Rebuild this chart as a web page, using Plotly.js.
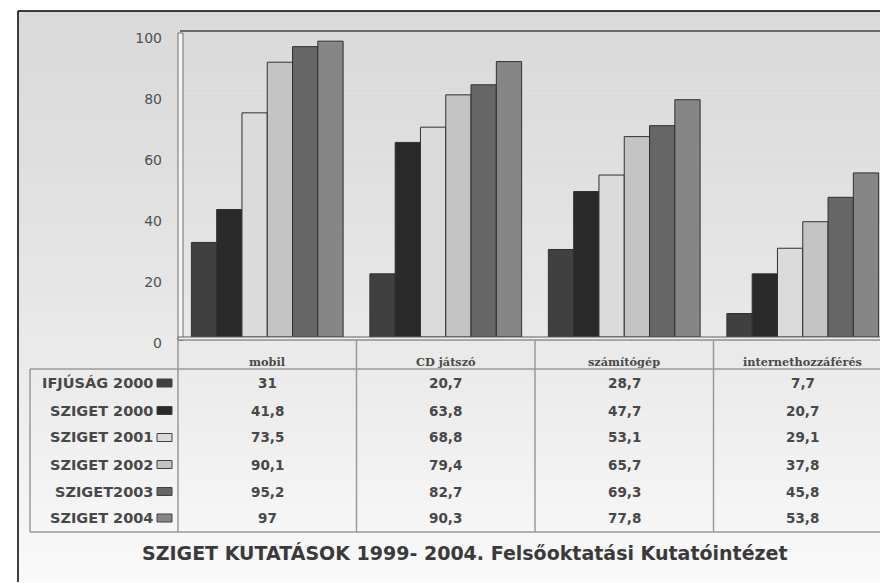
<!DOCTYPE html>
<html>
<head>
<meta charset="utf-8">
<script src="https://cdn.plot.ly/plotly-3.0.1.min.js"></script>
<style>
  html, body { margin: 0; padding: 0; background: #ffffff; }
  #chart { width: 880px; height: 583px; }
</style>
</head>
<body>
<div id="chart"></div>
<script>
// ---- data ----
const categories = ['mobil', 'CD játszó', 'számítógép', 'internethozzáférés'];
const seriesNames = ['IFJÚSÁG 2000', 'SZIGET 2000', 'SZIGET 2001', 'SZIGET 2002', 'SZIGET2003', 'SZIGET 2004'];
const ifjusag2000 = [31, 20.7, 28.7, 7.7];
const sziget2000 = [41.8, 63.8, 47.7, 20.7];
const sziget2001 = [73.5, 68.8, 53.1, 29.1];
const sziget2002 = [90.1, 79.4, 65.7, 37.8];
const sziget2003 = [95.2, 82.7, 69.3, 45.8];
const sziget2004 = [97, 90.3, 77.8, 53.8];
const yTickValues = [0, 20, 40, 60, 80, 100];
const chartTitle = 'SZIGET KUTATÁSOK 1999- 2004. Felsőoktatási Kutatóintézet';

const seriesValues = [ifjusag2000, sziget2000, sziget2001, sziget2002, sziget2003, sziget2004];
const seriesColors = ['#404040', '#2a2a2a', '#dbdbdb', '#c4c4c4', '#666666', '#868686'];

// ---- geometry helpers (decoration only) ----
const W = 880, H = 583;
const ML = 178, MT = 32, MB = 246, MR = 0;
const PW = W - ML - MR, PH = H - MT - MB;
const px = p => (p - ML) / PW;        // pixel x -> paper x
const py = p => (H - MB - p) / PH;    // pixel y -> paper y

const traces = seriesNames.map((name, i) => ({
  type: 'bar',
  name: name,
  x: categories,
  y: seriesValues[i],
  marker: { color: seriesColors[i], line: { color: '#303030', width: 1 } },
  hoverinfo: 'x+y+name'
}));

const shapes = [];
const annotations = [];

// background gradient frame (bands)
const bandTop = 11, bandBottom = 582, nBands = 40;
for (let b = 0; b < nBands; b++) {
  const t = b / (nBands - 1);
  const v = Math.round(218 + (249 - 218) * Math.pow(t, 1.3));
  const y0 = bandTop + (bandBottom - bandTop) * b / nBands;
  const y1 = bandTop + (bandBottom - bandTop) * (b + 1) / nBands + 0.5;
  shapes.push({
    type: 'rect', xref: 'paper', yref: 'paper', layer: 'below',
    x0: px(18), x1: px(900), y0: py(y1), y1: py(y0),
    fillcolor: `rgb(${v},${v},${v})`, line: { width: 0 }
  });
}
// outer frame border (left/top black)
shapes.push({ type: 'line', xref: 'paper', yref: 'paper', x0: px(18), x1: px(18), y0: py(582), y1: py(11), line: { color: '#000', width: 1.5 } });
shapes.push({ type: 'line', xref: 'paper', yref: 'paper', x0: px(18), x1: px(900), y0: py(11), y1: py(11), line: { color: '#000', width: 1.5 } });

// plot top border
shapes.push({ type: 'line', xref: 'paper', yref: 'paper', x0: px(180), x1: px(900), y0: py(31), y1: py(31), line: { color: '#6a6a6a', width: 2 } });
// left wall (3D)
shapes.push({ type: 'rect', xref: 'paper', yref: 'paper', x0: px(178), x1: px(183), y0: py(340), y1: py(33), fillcolor: '#f4f4f4', line: { color: '#707070', width: 1 } });
// floor
shapes.push({ type: 'rect', xref: 'paper', yref: 'paper', x0: px(178), x1: px(900), y0: py(340), y1: py(337), fillcolor: '#f0f0f0', line: { color: '#606060', width: 1 } });

// table lines
const tableLine = { color: '#9a9a9a', width: 1.5 };
shapes.push({ type: 'line', xref: 'paper', yref: 'paper', x0: px(30), x1: px(900), y0: py(369), y1: py(369), line: tableLine });
shapes.push({ type: 'line', xref: 'paper', yref: 'paper', x0: px(30), x1: px(900), y0: py(532), y1: py(532), line: tableLine });
shapes.push({ type: 'line', xref: 'paper', yref: 'paper', x0: px(30), x1: px(30), y0: py(532), y1: py(369), line: tableLine });
shapes.push({ type: 'line', xref: 'paper', yref: 'paper', x0: px(178), x1: px(178), y0: py(532), y1: py(340), line: tableLine });
for (let c = 0; c < categories.length - 1; c++) {
  shapes.push({ type: 'line', xref: 'x', yref: 'paper', x0: c + 0.5, x1: c + 0.5, y0: py(532), y1: py(340), line: tableLine });
}

// header row (category names)
categories.forEach((cat, c) => {
  annotations.push({
    xref: 'x', yref: 'paper', x: c, y: py(362), text: '<b>' + cat + '</b>',
    showarrow: false, xanchor: 'center', yanchor: 'middle',
    font: { family: 'DejaVu Serif, serif', size: 11.3, color: '#4a4a4a' }
  });
});

// data rows
const rowY = [383, 410.5, 437.5, 464.5, 491.5, 518];
seriesNames.forEach((name, i) => {
  annotations.push({
    xref: 'paper', yref: 'paper', x: px(155), y: py(rowY[i]), text: '<b>' + name + '</b>',
    showarrow: false, xanchor: 'right', yanchor: 'middle',
    font: { family: 'DejaVu Sans, sans-serif', size: 14.5, color: '#484848' }
  });
  shapes.push({
    type: 'rect', xref: 'paper', yref: 'paper',
    x0: px(157), x1: px(172), y0: py(rowY[i] + 4), y1: py(rowY[i] - 4),
    fillcolor: seriesColors[i], line: { color: '#404040', width: 1 }
  });
  seriesValues[i].forEach((v, c) => {
    annotations.push({
      xref: 'x', yref: 'paper', x: c, y: py(rowY[i]), text: '<b>' + String(v).replace('.', ',') + '</b>',
      showarrow: false, xanchor: 'center', yanchor: 'middle',
      font: { family: 'DejaVu Sans, sans-serif', size: 13.5, color: '#484848' }
    });
  });
});

// bottom title
annotations.push({
  xref: 'paper', yref: 'paper', x: px(465), y: py(553), text: '<b>' + chartTitle + '</b>',
  showarrow: false, xanchor: 'center', yanchor: 'middle',
  font: { family: 'DejaVu Sans, sans-serif', size: 19, color: '#3a3a3a' }
});

const layout = {
  width: W, height: H,
  margin: { l: ML, r: MR, t: MT, b: MB, pad: 0 },
  paper_bgcolor: '#ffffff',
  plot_bgcolor: '#ffffff',
  showlegend: false,
  barmode: 'group',
  bargap: 0.15,
  bargroupgap: 0,
  xaxis: {
    type: 'category',
    range: [-0.5, -0.5 + PW / 178.5],
    showticklabels: false, showgrid: false, zeroline: false, showline: false, ticks: ''
  },
  yaxis: {
    range: [0, 100],
    tickvals: yTickValues,
    showgrid: true, gridcolor: '#e2e2e2', gridwidth: 1,
    zeroline: false, showline: false, ticks: '',
    ticklabelstandoff: 15,
    ticklabelshift: 6,
    tickfont: { family: 'DejaVu Sans, sans-serif', size: 14, color: '#505050' }
  },
  shapes: shapes,
  annotations: annotations
};

Plotly.newPlot('chart', traces, layout, { displayModeBar: false, staticPlot: true });
</script>
</body>
</html>
